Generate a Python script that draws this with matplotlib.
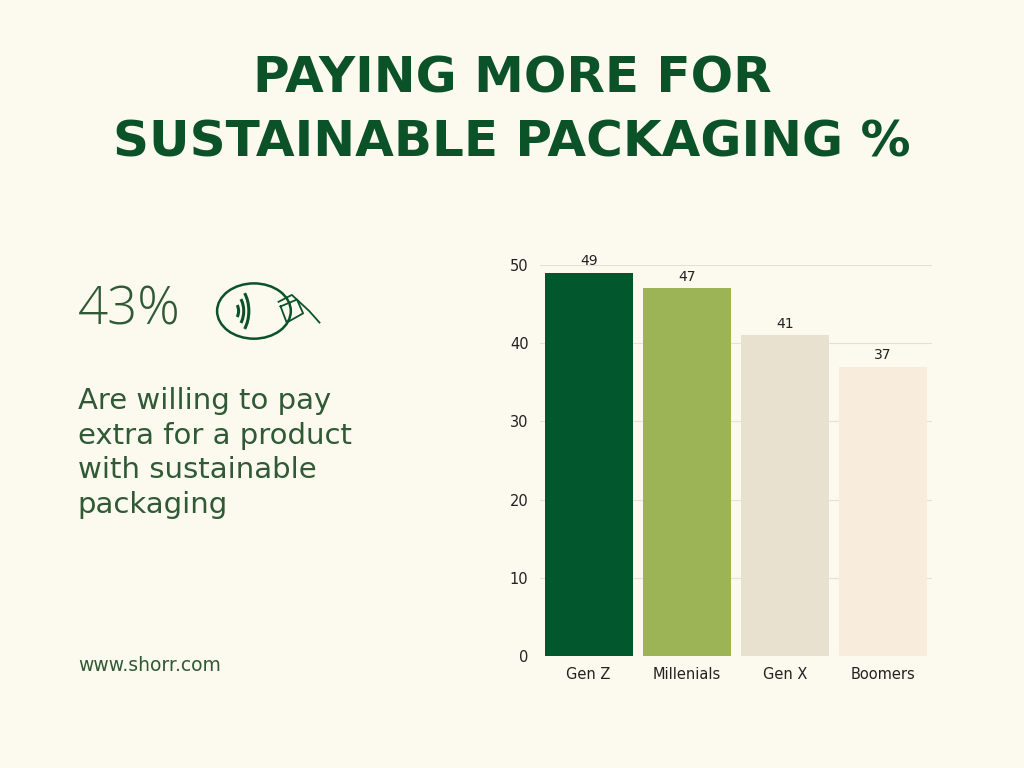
import matplotlib
matplotlib.use("Agg")
import matplotlib.pyplot as plt
from matplotlib.patches import Ellipse, Arc

categories = ["Gen Z", "Millenials", "Gen X", "Boomers"]
values = [49, 47, 41, 37]
bar_colors = ["#03572C", "#9CB356", "#E8E1D0", "#F8EDDC"]

BG = "#FCF9EE"
GREEN = "#0B5229"
TEXT_GREEN = "#2F5A35"

fig = plt.figure(figsize=(10.24, 7.68), dpi=100, facecolor=BG)

fig.text(0.5, 0.898, "PAYING MORE FOR", ha="center", va="center",
         fontsize=36, fontweight="bold", color=GREEN, family="DejaVu Sans")
fig.text(0.5, 0.815, "SUSTAINABLE PACKAGING %", ha="center", va="center",
         fontsize=36, fontweight="bold", color=GREEN, family="DejaVu Sans")

fig.text(0.076, 0.595, "43%", fontsize=38, color=TEXT_GREEN, va="center",
         family="Open Sans", fontweight="light")
fig.text(0.076, 0.41, "Are willing to pay\nextra for a product\nwith sustainable\npackaging",
         fontsize=21, color=TEXT_GREEN, va="center", linespacing=1.3,
         family="DejaVu Sans")
fig.text(0.076, 0.133, "www.shorr.com", fontsize=13.5, color=TEXT_GREEN, va="center",
         family="DejaVu Sans")

# contactless icon
icon = fig.add_axes([0.21, 0.55, 0.11, 0.09])
icon.set_xlim(0, 110)
icon.set_ylim(0, 60)
icon.axis("off")
icon.add_patch(Ellipse((38, 30), 72, 48, fill=False, ec=GREEN, lw=1.8))
for r in [10, 20, 30]:
    icon.add_patch(Arc((18, 30), r, r * 1.5, theta1=-55, theta2=55, ec=GREEN, lw=2.2))
icon.plot([62, 75, 92, 102], [38, 44, 30, 20], color=GREEN, lw=1.3)
icon.plot([64, 80, 86, 70, 64], [34, 40, 28, 20, 34], color=GREEN, lw=1.3)

ax = fig.add_axes([0.527, 0.146, 0.383, 0.509])
ax.set_facecolor(BG)
x = range(len(categories))
ax.bar(x, values, width=0.9, color=bar_colors, zorder=3)
for xi, v in zip(x, values):
    ax.text(xi, v + 0.6, str(v), ha="center", va="bottom", fontsize=10, color="#222222")
ax.set_ylim(0, 50)
ax.set_xlim(-0.5, 3.5)
ax.set_yticks(range(0, 51, 10))
ax.set_xticks(list(x))
ax.set_xticklabels(categories)
ax.tick_params(length=0, labelsize=10.5, colors="#222222", pad=8)
ax.grid(axis="y", color="#E4E1D6", lw=0.8, zorder=0)
for s in ax.spines.values():
    s.set_visible(False)

fig.savefig("out.png", dpi=100, facecolor=BG)
